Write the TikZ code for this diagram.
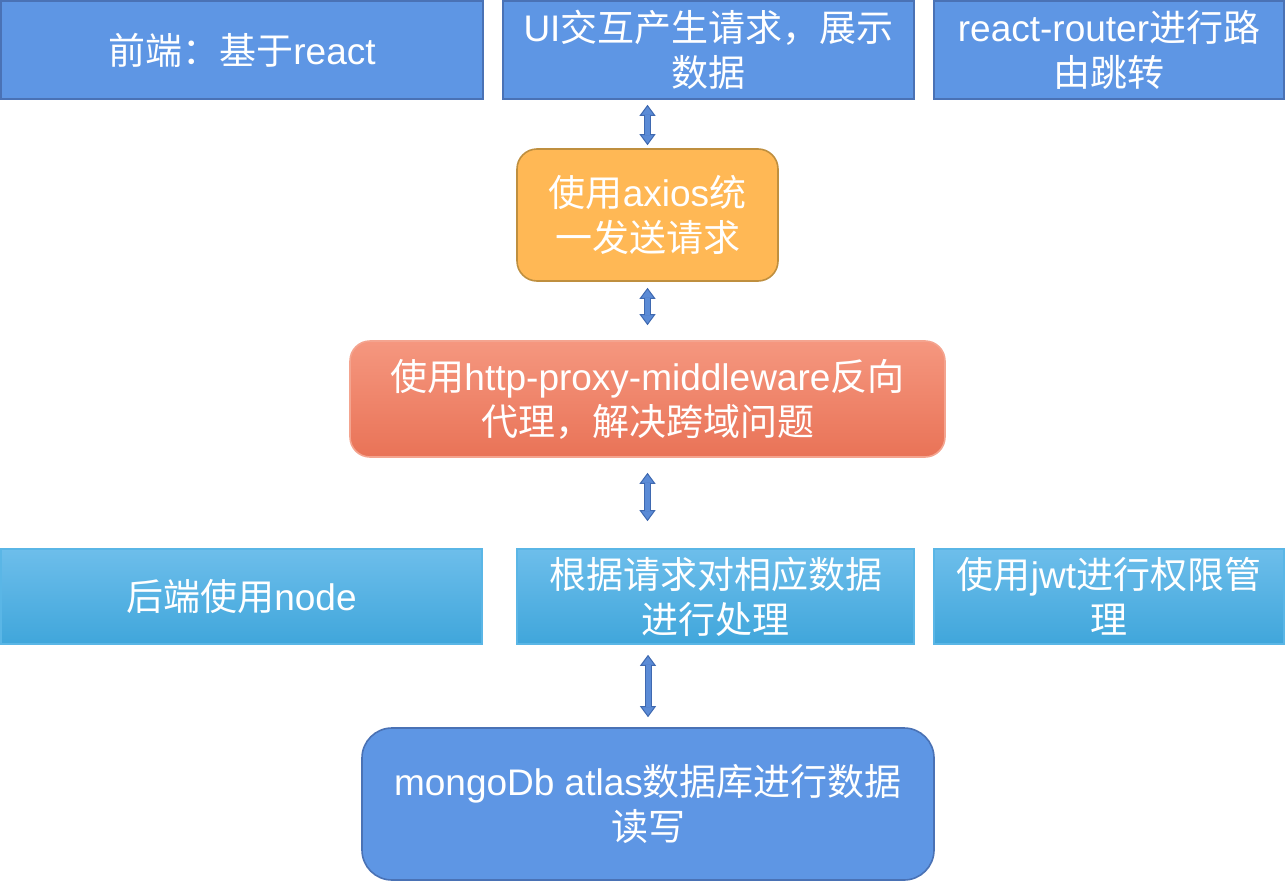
\documentclass[tikz,border=0pt]{standalone}
\usepackage{fontspec}
\setmainfont{Liberation Sans}
\newfontfamily\cjk{Noto Sans CJK SC}
\usetikzlibrary{arrows.meta,calc}
\definecolor{boxblue}{HTML}{5E96E4}
\definecolor{boxline}{HTML}{4A72B5}
\definecolor{axiosfill}{HTML}{FFB855}
\definecolor{axiosline}{HTML}{BF8F3F}
\definecolor{proxytop}{HTML}{F5977F}
\definecolor{proxybot}{HTML}{E97357}
\definecolor{proxyline}{HTML}{F4A48F}
\definecolor{backtop}{HTML}{6DBEEB}
\definecolor{backbot}{HTML}{40A6DB}
\definecolor{backline}{HTML}{5AB6E6}
\definecolor{arrfill}{HTML}{5B8BD6}
\definecolor{arrline}{HTML}{3F69B0}
\tikzset{
  base/.style={text=white, align=center, inner sep=0pt, line width=1.6pt,
    font=\fontsize{37}{45}\selectfont},
  topbox/.style={base, fill=boxblue, draw=boxline},
  axiosbox/.style={base, fill=axiosfill, draw=axiosline, rounded corners=20pt},
  proxybox/.style={base, top color=proxytop, bottom color=proxybot, draw=proxyline, rounded corners=20pt},
  backbox/.style={base, top color=backtop, bottom color=backbot, draw=backline},
  dbbox/.style={base, fill=boxblue, draw=boxline, rounded corners=30pt},
  conn/.style={draw=arrline, line width=7pt,
    >={Triangle[width=16pt,length=11pt,fill=arrfill,line width=1pt]}, <->,
    postaction={draw=arrfill, line width=5pt, -, shorten <=10pt, shorten >=10pt}}
}
\begin{document}
\begin{tikzpicture}[x=1pt,y=1pt] %---- front end / proxy / back end
\useasboundingbox (0,0) rectangle (1287,-883);
% ---- front end row
\node[topbox, minimum width=482, minimum height=98] (front) at (242,-50) {{\cjk 前端：基于}react};
\node[topbox, minimum width=411, minimum height=98] (ui) at (708.5,-50) {UI{\cjk 交互产生请求，展示}\\{\cjk 数据}};
\node[topbox, minimum width=350, minimum height=98] (router) at (1109,-50) {react-router{\cjk 进行路}\\{\cjk 由跳转}};
% ---- middle
\node[axiosbox, minimum width=261, minimum height=132] (axios) at (647.5,-215) {{\cjk 使用}axios{\cjk 统}\\{\cjk 一发送请求}};
\node[proxybox, minimum width=595, minimum height=116] (proxy) at (647.5,-399) {{\cjk 使用}http-proxy-middleware{\cjk 反向}\\{\cjk 代理，解决跨域问题}};
% ---- back end row
\node[backbox, minimum width=481, minimum height=95] (node) at (241.5,-596.5) {{\cjk 后端使用}node};
\node[backbox, minimum width=397, minimum height=95] (handle) at (715.5,-596.5) {{\cjk 根据请求对相应数据}\\{\cjk 进行处理}};
\node[backbox, minimum width=350, minimum height=95] (jwt) at (1109,-596.5) {{\cjk 使用}jwt{\cjk 进行权限管}\\{\cjk 理}};
% ---- database
\node[dbbox, minimum width=572, minimum height=152] (db) at (648,-804) {mongoDb atlas{\cjk 数据库进行数据}\\{\cjk 读写}};
% ---- arrows
\draw[conn] ($(ui.south -| axios.north)+(0,-5)$) -- ($(axios.north)+(0,3)$);
\draw[conn] ($(axios.south)+(0,-6)$) -- ($(proxy.north)+(0,15)$);
\draw[conn] ($(proxy.south)+(0,-15)$) -- ($(handle.north -| proxy.south)+(0,27)$);
\draw[conn] ($(handle.south -| db.north)+(0,-10)$) -- ($(db.north)+(0,10)$);
\end{tikzpicture}
\end{document}
